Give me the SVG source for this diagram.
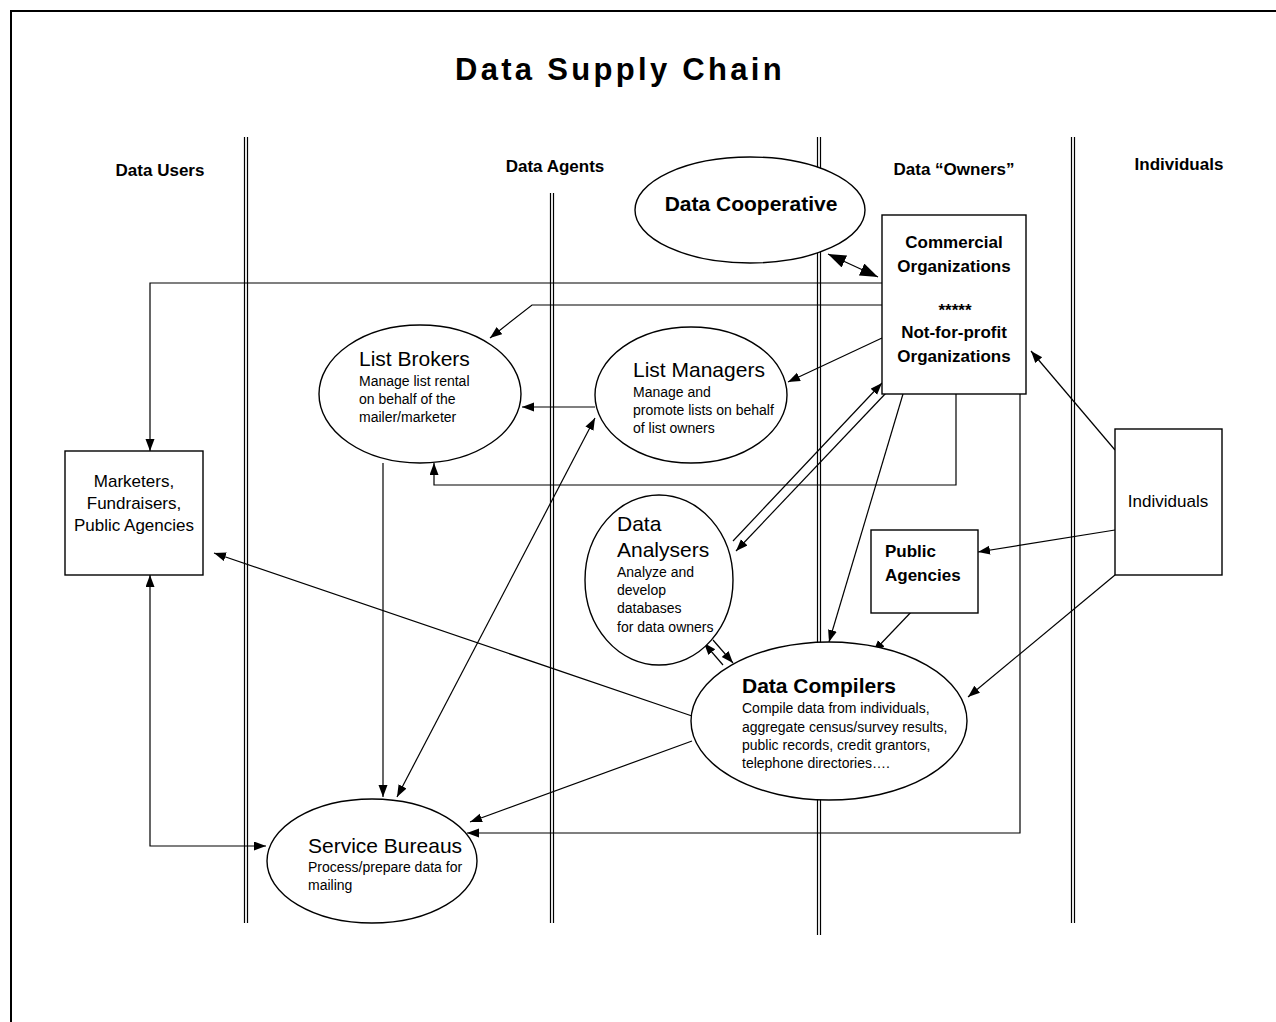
<svg xmlns="http://www.w3.org/2000/svg" width="1276" height="1022" viewBox="0 0 1276 1022">
  <style>
    .lane { stroke: #000; stroke-width: 1.2; }
    .conn { fill: none; stroke: #000; stroke-width: 1.2; }
    .node { fill: #fff; stroke: #000; stroke-width: 1.4; }
    text { font-family: "Liberation Sans", Arial, sans-serif; fill: #000; }
    .hdr { font-size: 17px; font-weight: bold; text-anchor: middle; }
    .big { font-size: 21px; }
    .sub { font-size: 14px; }
    .bold { font-weight: bold; }
    .mid { text-anchor: middle; }
  </style>
  <defs>
    <marker id="arr" markerUnits="userSpaceOnUse" markerWidth="14" markerHeight="10" refX="12" refY="4.5" orient="auto-start-reverse">
      <path d="M0,0 L12,4.5 L0,9 z" fill="#000"/>
    </marker>
    <marker id="arrBig" markerUnits="userSpaceOnUse" markerWidth="20" markerHeight="14" refX="18" refY="6.5" orient="auto-start-reverse">
      <path d="M0,0 L18,6.5 L0,13 z" fill="#000"/>
    </marker>
  </defs>

  <!-- page frame -->
  <rect x="11" y="11" width="1300" height="1100" fill="#fff" stroke="#000" stroke-width="2"/>

  <!-- title -->
  <text x="620" y="80" font-size="31" font-weight="bold" letter-spacing="3.3" text-anchor="middle">Data Supply Chain</text>

  <!-- swimlane headers -->
  <g id="headers">
    <text class="hdr" x="160" y="176">Data Users</text>
    <text class="hdr" x="555" y="172">Data Agents</text>
    <text class="hdr" x="954" y="175">Data “Owners”</text>
    <text class="hdr" x="1179" y="170">Individuals</text>
  </g>

  <!-- swimlane dividers (double rules) -->
  <g id="lanes">
    <line class="lane" x1="244.5" y1="137" x2="244.5" y2="923"/>
    <line class="lane" x1="247.5" y1="137" x2="247.5" y2="923"/>
    <line class="lane" x1="550.5" y1="193" x2="550.5" y2="923"/>
    <line class="lane" x1="553.5" y1="193" x2="553.5" y2="923"/>
    <line class="lane" x1="817.5" y1="137" x2="817.5" y2="935"/>
    <line class="lane" x1="820.5" y1="137" x2="820.5" y2="935"/>
    <line class="lane" x1="1071.5" y1="137" x2="1071.5" y2="923"/>
    <line class="lane" x1="1074.5" y1="137" x2="1074.5" y2="923"/>
  </g>

  <!-- connectors -->
  <g id="connectors">
    <line class="conn" x1="828" y1="254" x2="878" y2="277" stroke-width="2.2" marker-start="url(#arrBig)" marker-end="url(#arrBig)"/>
    <polyline class="conn" points="882,283 150,283 150,451" marker-end="url(#arr)"/>
    <polyline class="conn" points="882,305 532,305 490,338" marker-end="url(#arr)"/>
    <line class="conn" x1="882" y1="338" x2="788" y2="382" marker-end="url(#arr)"/>
    <line class="conn" x1="595" y1="407" x2="522" y2="407" marker-end="url(#arr)"/>
    <polyline class="conn" points="956,394 956,485 434,485 434,463" marker-end="url(#arr)"/>
    <polyline class="conn" points="1020,394 1020,833 467,833" marker-end="url(#arr)"/>
    <line class="conn" x1="733" y1="541" x2="882" y2="383" marker-end="url(#arr)"/>
    <line class="conn" x1="886" y1="393" x2="736" y2="551" marker-end="url(#arr)"/>
    <line class="conn" x1="397" y1="797" x2="595" y2="418" marker-start="url(#arr)" marker-end="url(#arr)"/>
    <line class="conn" x1="383" y1="463" x2="383" y2="797" marker-end="url(#arr)"/>
    <line class="conn" x1="692" y1="716" x2="214" y2="553" marker-end="url(#arr)"/>
    <line class="conn" x1="692" y1="741" x2="470" y2="822" marker-end="url(#arr)"/>
    <polyline class="conn" points="150,575 150,846 266,846" marker-start="url(#arr)" marker-end="url(#arr)"/>
    <line class="conn" x1="903" y1="394" x2="829" y2="642" marker-end="url(#arr)"/>
    <line class="conn" x1="914" y1="609" x2="873" y2="652" marker-end="url(#arr)"/>
    <line class="conn" x1="1115" y1="530" x2="978" y2="552" marker-end="url(#arr)"/>
    <line class="conn" x1="1115" y1="575" x2="968" y2="697" marker-end="url(#arr)"/>
    <line class="conn" x1="1115" y1="450" x2="1031" y2="351" marker-end="url(#arr)"/>
    <line class="conn" x1="723" y1="665" x2="704" y2="643" marker-end="url(#arr)"/>
    <line class="conn" x1="713" y1="640" x2="733" y2="663" marker-end="url(#arr)"/>
  </g>

  <!-- nodes -->
  <g id="data-cooperative">
    <ellipse class="node" cx="750" cy="210" rx="115" ry="53"/>
    <text class="bold mid" x="751" y="211" font-size="21">Data Cooperative</text>
  </g>

  <g id="commercial-orgs">
    <rect class="node" x="882" y="215" width="144" height="179"/>
    <text class="bold mid" x="954" y="248" font-size="17">Commercial</text>
    <text class="bold mid" x="954" y="272" font-size="17">Organizations</text>
    <text class="bold mid" x="955" y="316" font-size="17">*****</text>
    <text class="bold mid" x="954" y="338" font-size="17">Not-for-profit</text>
    <text class="bold mid" x="954" y="362" font-size="17">Organizations</text>
  </g>

  <g id="list-brokers">
    <ellipse class="node" cx="420" cy="394" rx="101" ry="69"/>
    <text class="big" x="359" y="366">List Brokers</text>
    <text class="sub" x="359" y="386">Manage list rental</text>
    <text class="sub" x="359" y="404">on behalf of the</text>
    <text class="sub" x="359" y="422">mailer/marketer</text>
  </g>

  <g id="list-managers">
    <ellipse class="node" cx="691" cy="395" rx="96" ry="68"/>
    <text class="big" x="633" y="377">List Managers</text>
    <text class="sub" x="633" y="397">Manage and</text>
    <text class="sub" x="633" y="415">promote lists on behalf</text>
    <text class="sub" x="633" y="433">of list owners</text>
  </g>

  <g id="data-users">
    <rect class="node" x="65" y="451" width="138" height="124"/>
    <text class="mid" x="134" y="487" font-size="17">Marketers,</text>
    <text class="mid" x="134" y="509" font-size="17">Fundraisers,</text>
    <text class="mid" x="134" y="531" font-size="17">Public Agencies</text>
  </g>

  <g id="data-analysers">
    <ellipse class="node" cx="659" cy="580" rx="74" ry="85"/>
    <text class="big" x="617" y="531">Data</text>
    <text class="big" x="617" y="557">Analysers</text>
    <text class="sub" x="617" y="577">Analyze and</text>
    <text class="sub" x="617" y="595">develop</text>
    <text class="sub" x="617" y="613">databases</text>
    <text class="sub" x="617" y="632">for data owners</text>
  </g>

  <g id="public-agencies">
    <rect class="node" x="871" y="530" width="107" height="83"/>
    <text class="bold" x="885" y="557" font-size="17">Public</text>
    <text class="bold" x="885" y="581" font-size="17">Agencies</text>
  </g>

  <g id="individuals">
    <rect class="node" x="1115" y="429" width="107" height="146"/>
    <text class="mid" x="1168" y="507" font-size="17">Individuals</text>
  </g>

  <g id="data-compilers">
    <ellipse class="node" cx="829" cy="721" rx="138" ry="79"/>
    <text class="bold" x="742" y="693" font-size="21">Data Compilers</text>
    <text class="sub" x="742" y="713">Compile data from individuals,</text>
    <text class="sub" x="742" y="732">aggregate census/survey results,</text>
    <text class="sub" x="742" y="750">public records, credit grantors,</text>
    <text class="sub" x="742" y="768">telephone directories….</text>
  </g>

  <g id="service-bureaus">
    <ellipse class="node" cx="372" cy="861" rx="105" ry="62"/>
    <text class="big" x="308" y="853">Service Bureaus</text>
    <text class="sub" x="308" y="872">Process/prepare data for</text>
    <text class="sub" x="308" y="890">mailing</text>
  </g>
</svg>
